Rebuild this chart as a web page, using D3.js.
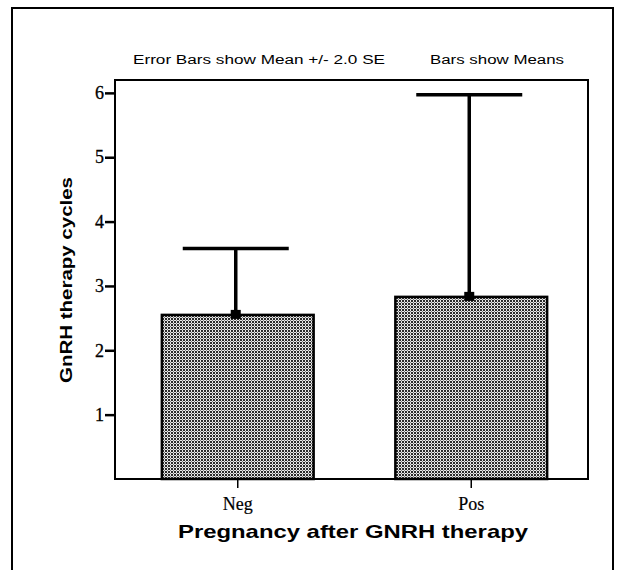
<!DOCTYPE html>
<html>
<head>
<meta charset="utf-8">
<script src="https://cdn.jsdelivr.net/npm/d3@7"></script>
<style>
  html, body { margin: 0; padding: 0; background: #fff; }
  svg { display: block; }
</style>
</head>
<body>
<svg id="chart" width="621" height="570"></svg>
<script>
// ---- data ----
const categories = ["Neg", "Pos"];
const means = [2.55, 2.83];
const upperErr = [3.58, 5.97];
const yTicks = [1, 2, 3, 4, 5, 6];
const yLabel = "GnRH therapy cycles";
const xLabel = "Pregnancy after GNRH therapy";
const noteLeft = "Error Bars show Mean +/- 2.0 SE";
const noteRight = "Bars show Means";

const svg = d3.select("#chart");

// stipple pattern
const defs = svg.append("defs");
const pat = defs.append("pattern").attr("id", "stip")
  .attr("patternUnits", "userSpaceOnUse").attr("width", 3).attr("height", 3);
pat.append("rect").attr("width", 3).attr("height", 3).attr("fill", "#e8e8e8");
pat.append("rect").attr("width", 2).attr("height", 2).attr("fill", "#2a2a2a");
pat.append("rect").attr("x", 2).attr("y", 2).attr("width", 1).attr("height", 1).attr("fill", "#777");

// outer frame
svg.append("path").attr("d", "M12,575 L12,8 L613,8 L613,575")
  .attr("fill", "none").attr("stroke", "#000").attr("stroke-width", 2);

const plot = { left: 115, right: 588, top: 80, bottom: 479 };

const x = d3.scaleBand().domain(categories)
  .range([121, 588]).paddingInner(0.35).paddingOuter(0.175);
const y = d3.scaleLinear().domain([0, 6.2]).range([plot.bottom, plot.top]);

// plot frame
svg.append("rect").attr("x", plot.left).attr("y", plot.top)
  .attr("width", plot.right - plot.left).attr("height", plot.bottom - plot.top)
  .attr("fill", "none").attr("stroke", "#000").attr("stroke-width", 2);

// bars
svg.selectAll("rect.bar").data(categories).enter().append("rect")
  .attr("class", "bar")
  .attr("x", d => x(d))
  .attr("y", (d, i) => y(means[i]))
  .attr("width", x.bandwidth())
  .attr("height", (d, i) => y(0) - y(means[i]))
  .attr("fill", "url(#stip)")
  .attr("stroke", "#000").attr("stroke-width", 2.5);

// error bars
const capW = 106;
categories.forEach((c, i) => {
  const cx = x(c) + x.bandwidth() / 2 - 2;
  svg.append("line").attr("x1", cx).attr("x2", cx)
    .attr("y1", y(means[i])).attr("y2", y(upperErr[i]))
    .attr("stroke", "#000").attr("stroke-width", 3.5);
  svg.append("line").attr("x1", cx - capW / 2).attr("x2", cx + capW / 2)
    .attr("y1", y(upperErr[i])).attr("y2", y(upperErr[i]))
    .attr("stroke", "#000").attr("stroke-width", 3.5);
  svg.append("rect").attr("x", cx - 5).attr("y", y(means[i]) - 5)
    .attr("width", 10).attr("height", 9).attr("fill", "#000");
});

// y axis
const yAxis = d3.axisLeft(y).tickValues(yTicks).tickSize(10).tickPadding(1)
  .tickFormat(d3.format("d"));
const gy = svg.append("g").attr("transform", `translate(${plot.left},0)`).call(yAxis);
gy.attr("font-size", null).attr("font-family", null);
gy.select(".domain").remove();
gy.selectAll(".tick line").attr("stroke", "#000").attr("stroke-width", 2.5);
gy.selectAll(".tick text")
  .style("font-family", "'Liberation Serif', 'Times New Roman', serif")
  .style("font-size", "18px").attr("fill", "#000")
  .attr("stroke", "#000").attr("stroke-width", 0.3);

// x axis
const xAxis = d3.axisBottom(x).tickSize(9).tickPadding(5);
const gx = svg.append("g").attr("transform", `translate(0,${plot.bottom})`).call(xAxis);
gx.attr("font-size", null).attr("font-family", null);
gx.select(".domain").remove();
gx.selectAll(".tick line").attr("stroke", "#000").attr("stroke-width", 1.5);
gx.selectAll(".tick text")
  .style("font-family", "'Liberation Serif', 'Times New Roman', serif")
  .style("font-size", "18px").attr("fill", "#000").attr("dy", "0.95em")
  .attr("stroke", "#000").attr("stroke-width", 0.2);

// notes at top
svg.append("text").attr("x", 133).attr("y", 64)
  .attr("font-family", "'Liberation Sans', Arial, sans-serif").attr("font-size", 12)
  .attr("textLength", 252).attr("lengthAdjust", "spacingAndGlyphs").text(noteLeft);
svg.append("text").attr("x", 430).attr("y", 64)
  .attr("font-family", "'Liberation Sans', Arial, sans-serif").attr("font-size", 12)
  .attr("textLength", 134).attr("lengthAdjust", "spacingAndGlyphs").text(noteRight);

// axis titles
svg.append("text")
  .attr("transform", "translate(72,280) rotate(-90)")
  .attr("text-anchor", "middle")
  .attr("font-family", "'Liberation Sans', Arial, sans-serif").attr("font-weight", "bold")
  .attr("font-size", 16).attr("textLength", 206).attr("lengthAdjust", "spacingAndGlyphs")
  .text(yLabel);

svg.append("text").attr("x", 353).attr("y", 538)
  .attr("text-anchor", "middle")
  .attr("font-family", "'Liberation Sans', Arial, sans-serif").attr("font-weight", "bold")
  .attr("font-size", 19).attr("textLength", 350).attr("lengthAdjust", "spacingAndGlyphs")
  .text(xLabel);
</script>
</body>
</html>
